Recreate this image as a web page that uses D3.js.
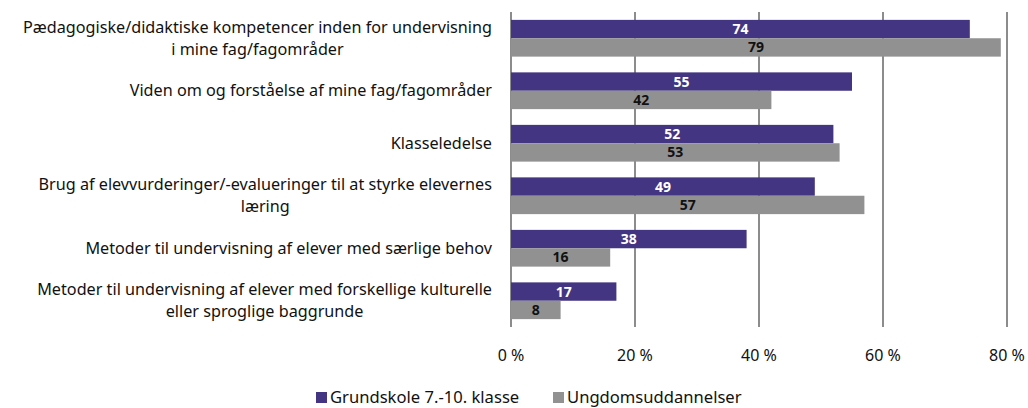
<!DOCTYPE html>
<html>
<head>
<meta charset="utf-8">
<script src="https://cdn.jsdelivr.net/npm/d3@7"></script>
<style>
  body { margin: 0; background: #fff; }
  svg text { font-family: "Noto Sans", "Open Sans", sans-serif; }
</style>
</head>
<body>
<svg id="chart"></svg>
<script>
var width = 1028;
var height = 408;

var categories = [
  ["Pædagogiske/didaktiske kompetencer inden for undervisning", "i mine fag/fagområder"],
  ["Viden om og forståelse af mine fag/fagområder"],
  ["Klasseledelse"],
  ["Brug af elevvurderinger/-evalueringer til at styrke elevernes", "læring"],
  ["Metoder til undervisning af elever med særlige behov"],
  ["Metoder til undervisning af elever med forskellige kulturelle", "eller sproglige baggrunde"]
];
var grundskole = [74, 55, 52, 49, 38, 17];
var ungdom = [79, 42, 53, 57, 16, 8];
var seriesNames = ["Grundskole 7.-10. klasse", "Ungdomsuddannelser"];
var seriesColors = ["#433581", "#919191"];
var labelColors = ["#ffffff", "#111111"];
var ticks = [0, 20, 40, 60, 80];

var svg = d3.select("#chart")
  .attr("width", width)
  .attr("height", height);

var x = d3.scaleLinear().domain([0, 80]).range([511, 1007]);
var y = d3.scaleBand().domain(d3.range(categories.length)).range([12, 327]).paddingInner(0.3).paddingOuter(0.15);
var sub = d3.scaleBand().domain([0, 1]).range([0, y.bandwidth()]);

// gridlines
svg.selectAll("line.grid")
  .data(ticks)
  .enter().append("line")
  .attr("class", "grid")
  .attr("x1", function(d) { return x(d); })
  .attr("x2", function(d) { return x(d); })
  .attr("y1", 12)
  .attr("y2", 327)
  .style("stroke", "#8c8c8c")
  .style("stroke-width", 2);

var series = [grundskole, ungdom];
series.forEach(function(vals, s) {
  svg.selectAll("rect.s" + s)
    .data(vals)
    .enter().append("rect")
    .attr("class", "s" + s)
    .attr("x", x(0))
    .attr("y", function(d, i) { return y(i) + sub(s); })
    .attr("width", function(d) { return x(d) - x(0); })
    .attr("height", sub.bandwidth())
    .style("fill", seriesColors[s]);

  svg.selectAll("text.v" + s)
    .data(vals)
    .enter().append("text")
    .attr("class", "v" + s)
    .attr("x", function(d) { return (x(d) + x(0)) / 2; })
    .attr("y", function(d, i) { return y(i) + sub(s) + sub.bandwidth() / 2; })
    .attr("dy", "0.36em")
    .attr("text-anchor", "middle")
    .style("font-size", "14px")
    .style("font-weight", "bold")
    .style("fill", labelColors[s])
    .text(function(d) { return d; });
});

// category labels
var catG = svg.selectAll("text.cat")
  .data(categories)
  .enter().append("text")
  .attr("class", "cat")
  .style("font-size", "16.2px")
  .style("fill", "#111");

catG.each(function(lines, i) {
  var t = d3.select(this);
  var cy = y(i) + y.bandwidth() / 2;
  var lh = 22;
  var startY = cy - (lines.length - 1) * lh / 2;
  var widest = 0;
  lines.forEach(function(l, k) {
    t.append("tspan")
      .attr("y", startY + k * lh)
      .attr("dy", "0.35em")
      .text(l);
  });
  t.selectAll("tspan").each(function() {
    widest = Math.max(widest, this.getComputedTextLength());
  });
  // lines are centred on each other, block is right-aligned at 492
  t.selectAll("tspan")
    .attr("text-anchor", "middle")
    .attr("x", 492 - widest / 2);
});

// tick labels
svg.selectAll("text.tick")
  .data(ticks)
  .enter().append("text")
  .attr("class", "tick")
  .attr("x", function(d) { return x(d); })
  .attr("y", 355)
  .attr("dy", "0.35em")
  .attr("text-anchor", "middle")
  .style("font-size", "16px")
  .style("fill", "#111")
  .text(function(d) { return d + " %"; });

// legend
var legendX = [316, 553];
var lg = svg.selectAll("g.legend")
  .data(seriesNames)
  .enter().append("g")
  .attr("class", "legend")
  .attr("transform", function(d, i) { return "translate(" + legendX[i] + ",397)"; });
lg.append("rect")
  .attr("x", 0)
  .attr("y", -5)
  .attr("width", 11)
  .attr("height", 11)
  .style("fill", function(d, i) { return seriesColors[i]; });
lg.append("text")
  .attr("x", 14)
  .attr("y", 0)
  .attr("dy", "0.35em")
  .style("font-size", "16.6px")
  .style("fill", "#111")
  .text(function(d) { return d; });
</script>
</body>
</html>
